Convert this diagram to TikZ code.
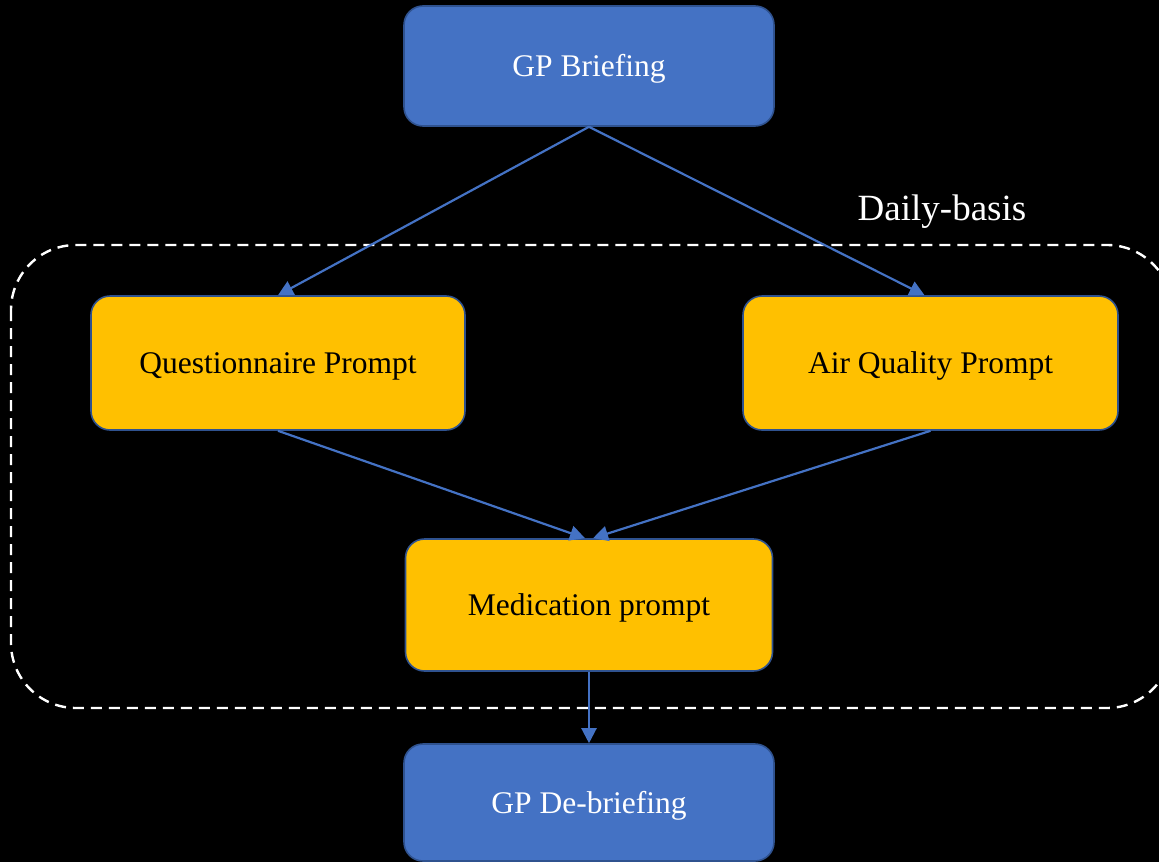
\documentclass[tikz,border=0pt]{standalone}
\usepackage{fontspec}
\setmainfont{Liberation Serif}
\usetikzlibrary{arrows.meta}
\definecolor{boxblue}{HTML}{4472C4}
\definecolor{boxyellow}{HTML}{FFC000}
\definecolor{edgeblue}{HTML}{2F528F}
\begin{document}
\begin{tikzpicture}[x=1pt,y=-1pt,
  basebox/.style={draw=edgeblue, line width=1.6pt, rounded corners=19pt, inner sep=0pt,
    text height=21pt, text depth=0pt, font=\fontsize{31.5}{36}\selectfont},
  bluebox/.style={basebox, fill=boxblue, text=white},
  yellowbox/.style={basebox, fill=boxyellow, text=black},
  conn/.style={draw=boxblue, line width=2.2pt, -{Triangle[length=15pt,width=15pt]}},
  groupbox/.style={draw=white, line width=2.4pt, dash pattern=on 11pt off 7pt, rounded corners=65pt}]
\useasboundingbox (0,0) rectangle (1159,862);
\clip (0,0) rectangle (1159,862);
\fill[black] (0,0) rectangle (1159,862);
\draw[groupbox] (11,245) rectangle (1172,708);
\node[anchor=base, text=white, font=\fontsize{37}{42}\selectfont] (daily) at (942,220) {Daily-basis};
\node[bluebox, minimum width=370pt, minimum height=120pt] (brief) at (589,66) {GP Briefing};
\node[yellowbox, minimum width=374pt, minimum height=134pt] (quest) at (278,363) {Questionnaire Prompt};
\node[yellowbox, minimum width=375pt, minimum height=134pt] (air) at (930.5,363) {Air Quality Prompt};
\node[yellowbox, minimum width=367pt, minimum height=132pt] (med) at (589,605) {Medication prompt};
\node[bluebox, minimum width=370pt, minimum height=117pt] (debrief) at (589,802.5) {GP De-briefing};
\draw[conn] (brief.south) -- (quest.north);
\draw[conn] (brief.south) -- ([xshift=-6pt]air.north);
\draw[conn] (quest.south) -- ([xshift=-4pt]med.north);
\draw[conn] (air.south) -- ([xshift=4pt]med.north);
\draw[conn] (med.south) -- (debrief.north);
\end{tikzpicture}
\end{document}
